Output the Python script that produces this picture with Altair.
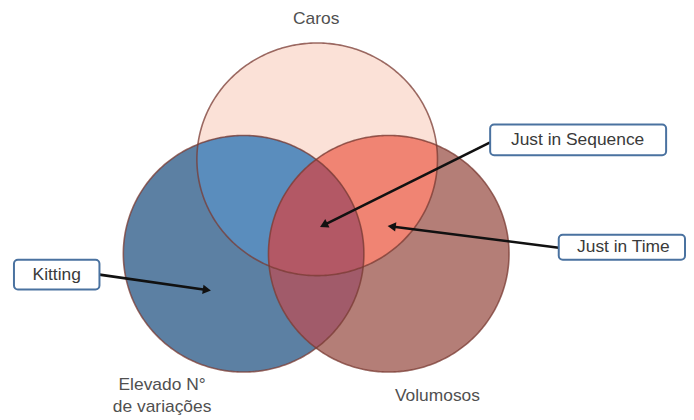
import numpy as np
import pandas as pd
import altair as alt

# ---- data (pixel-like units of the original figure) ----
circle_names = ["Caros", "Elevado", "Volumosos"]
circle_cx = [319, 245, 391]
circle_cy = [159, 254, 254]
circle_rx = [121, 121, 121]
circle_ry = [117, 119, 119]

# regions to paint (painter's order) : members, colour
region_members = [[0], [1], [2], [0, 1], [0, 2], [1, 2], [0, 1, 2]]
region_colors = ["#fbe1d7", "#5c80a3", "#b47e77", "#5a8dbd", "#f08473", "#a15b6a", "#b35865"]

label_text = ["Caros", "Elevado N°", "de variações", "Volumosos"]
label_x = [318, 163, 163, 440]
label_y = [18, 386, 408, 397]

box_text = ["Just in Sequence", "Kitting", "Just in Time"]
box_x1 = [493, 14, 562]
box_x2 = [670, 100, 689]
box_y1 = [124, 260, 235]
box_y2 = [155, 290, 260]
box_tx = [581, 57, 627]

arrow_x1 = [493, 100, 562]
arrow_y1 = [142, 275, 248]
arrow_x2 = [322, 212, 390]
arrow_y2 = [227, 291, 226]

W, H = 678, 404
xs = alt.Scale(domain=[8, 8 + W], nice=False, zero=False)
ys = alt.Scale(domain=[8, 8 + H], nice=False, zero=False, reverse=True)
X = lambda f: alt.X(f, type="quantitative", scale=xs, axis=None)
Y = lambda f: alt.Y(f, type="quantitative", scale=ys, axis=None)


def bounds(i, x):
    t = 1 - ((x - circle_cx[i]) / circle_rx[i]) ** 2
    t = np.where(t < 0, np.nan, t)
    h = circle_ry[i] * np.sqrt(t)
    return circle_cy[i] - h, circle_cy[i] + h


layers = []
grid = np.arange(100, 560, 0.25)
for members, col in zip(region_members, region_colors):
    top = np.full_like(grid, -np.inf)
    bot = np.full_like(grid, np.inf)
    for m in members:
        a, b = bounds(m, grid)
        top = np.where(np.isnan(a), np.nan, np.fmax(top, a))
        bot = np.where(np.isnan(b), np.nan, np.minimum(bot, b))
    ok = (~np.isnan(top)) & (~np.isnan(bot)) & (top <= bot)
    df = pd.DataFrame({"x": grid[ok], "y": top[ok], "y2": bot[ok]})
    layers.append(
        alt.Chart(df).mark_area(color=col, interpolate="linear").encode(
            x=X("x"), y=Y("y"), y2="y2"
        )
    )

# outlines
th = np.linspace(0, 2 * np.pi, 361)
rows = []
for i, n in enumerate(circle_names):
    for k, t in enumerate(th):
        rows.append({"c": n, "o": k,
                     "x": circle_cx[i] + circle_rx[i] * np.cos(t),
                     "y": circle_cy[i] + circle_ry[i] * np.sin(t)})
outline = pd.DataFrame(rows)
layers.append(
    alt.Chart(outline).mark_line(color="#7a3b33", strokeWidth=1.6, opacity=0.75).encode(
        x=X("x"), y=Y("y"), detail="c:N", order="o:Q"
    )
)

# labels
lab = pd.DataFrame({"t": label_text, "x": label_x, "y": label_y})
layers.append(
    alt.Chart(lab).mark_text(font="Liberation Sans", fontSize=17.5, color="#505050").encode(
        x=X("x"), y=Y("y"), text="t:N"
    )
)

# arrows
arr = pd.DataFrame({"x": arrow_x1, "y": arrow_y1, "x2": arrow_x2, "y2": arrow_y2})
dx = arr["x2"] - arr["x"]
dy = arr["y2"] - arr["y"]
L = np.sqrt(dx ** 2 + dy ** 2)
arr["hx"] = arr["x2"] - dx / L * 4
arr["hy"] = arr["y2"] - dy / L * 4
arr["ang"] = np.degrees(np.arctan2(dy, dx)) % 360
layers.append(
    alt.Chart(arr).mark_rule(color="#111111", strokeWidth=2.6).encode(
        x=X("x"), y=Y("y"), x2="hx", y2="hy"
    )
)
layers.append(
    alt.Chart(arr).mark_point(shape="triangle-right", filled=True, color="#111111",
                              size=90, opacity=1).encode(
        x=X("hx"), y=Y("hy"), angle=alt.Angle("ang:Q", scale=None)
    )
)

# boxes
box = pd.DataFrame({"t": box_text, "x1": box_x1, "x2": box_x2, "y1": box_y1, "y2": box_y2,
                    "cx": box_tx})
box["cy"] = (box["y1"] + box["y2"]) / 2
layers.append(
    alt.Chart(box).mark_rect(fill="#8a8a8a", opacity=0.35, cornerRadius=4,
                             xOffset=2, yOffset=2).encode(
        x=X("x1"), x2="x2", y=Y("y1"), y2="y2"
    )
)
layers.append(
    alt.Chart(box).mark_rect(fill="#ffffff", stroke="#4a72a0", strokeWidth=2,
                             cornerRadius=4).encode(
        x=X("x1"), x2="x2", y=Y("y1"), y2="y2"
    )
)
layers.append(
    alt.Chart(box).mark_text(font="Liberation Sans", fontSize=17.5, color="#3a3a3a").encode(
        x=X("cx"), y=Y("cy"), text="t:N"
    )
)

chart = alt.layer(*layers).properties(width=W, height=H, padding=0).configure_view(
    stroke=None
)
chart.save("out.html", embed_options={"renderer": "svg", "actions": False})
